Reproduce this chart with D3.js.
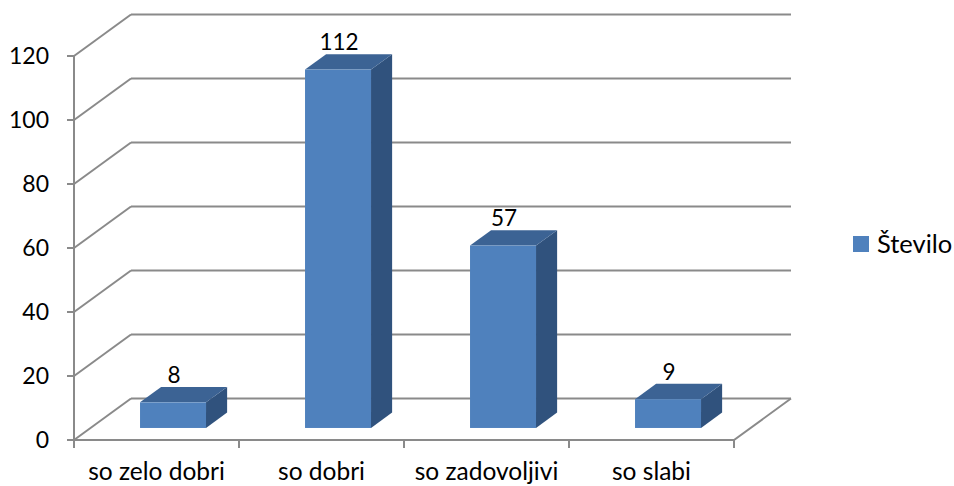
<!DOCTYPE html>
<html>
<head>
<meta charset="utf-8">
<script src="https://cdn.jsdelivr.net/npm/d3@7"></script>
<style>
  body { margin: 0; background: #fff; }
  text { font-family: Lato, "Open Sans", sans-serif; fill: #000; }
</style>
</head>
<body>
<div id="chart"></div>
<script>
// chart data
const categories = ["so zelo dobri", "so dobri", "so zadovoljivi", "so slabi"];
const values = [8, 112, 57, 9];
const seriesName = "Število";
const yTicks = [0, 20, 40, 60, 80, 100, 120];

const W = 954, H = 486;
// 3d depth of the whole plot (back wall offset)
const depthX = 57, depthY = -41.5;
// bar sits between these fractions of the depth
const barFront = 0.29, barBack = 0.66;

const svg = d3.select("#chart").append("svg")
  .attr("width", W).attr("height", H);

const x = d3.scaleBand().domain(categories).range([74, 734]);
const y = d3.scaleLinear().domain([0, 120]).range([440, 56]);

const gridColor = "#8a8a8a";
const grid = svg.append("g")
  .attr("stroke", gridColor).attr("stroke-width", 2).attr("fill", "none");

// back wall gridlines
grid.selectAll("line.back").data(yTicks).enter().append("line")
  .attr("x1", x.range()[0] + depthX).attr("x2", x.range()[1] + depthX)
  .attr("y1", d => y(d) + depthY).attr("y2", d => y(d) + depthY);

// side wall diagonals
grid.selectAll("line.side").data(yTicks).enter().append("line")
  .attr("x1", x.range()[0]).attr("x2", x.range()[0] + depthX)
  .attr("y1", d => y(d)).attr("y2", d => y(d) + depthY);

// floor front and right edges
grid.append("path")
  .attr("d", `M${x.range()[0]},${y(0)}L${x.range()[1]},${y(0)}L${x.range()[1] + depthX},${y(0) + depthY}`);

// vertical axis
grid.append("line")
  .attr("x1", x.range()[0]).attr("x2", x.range()[0])
  .attr("y1", y(0)).attr("y2", y(120));

// y ticks
grid.selectAll("line.ytick").data(yTicks).enter().append("line")
  .attr("x1", x.range()[0] - 7).attr("x2", x.range()[0])
  .attr("y1", d => y(d)).attr("y2", d => y(d));

// x ticks at category boundaries
const bounds = categories.map(c => x(c)).concat([x.range()[1]]);
grid.selectAll("line.xtick").data(bounds).enter().append("line")
  .attr("x1", d => d).attr("x2", d => d)
  .attr("y1", y(0)).attr("y2", y(0) + 8);

// y tick labels
svg.append("g").selectAll("text").data(yTicks).enter().append("text")
  .attr("x", 49).attr("y", d => y(d))
  .attr("dy", "0.35em")
  .attr("text-anchor", "end")
  .style("font-size", "23px")
  .text(d => d);

// category labels
svg.append("g").selectAll("text").data(categories).enter().append("text")
  .attr("x", d => x(d) + x.bandwidth() / 2)
  .attr("y", 480)
  .attr("text-anchor", "middle")
  .style("font-size", "24.5px")
  .text(d => d);

// bars
const faceW = 66;
const sdx = (barBack - barFront) * depthX, sdy = (barBack - barFront) * depthY;
const bars = svg.append("g").selectAll("g").data(values).enter().append("g");

function faceX(i) {
  return x(categories[i]) + (x.bandwidth() - faceW) / 2 + barFront * depthX;
}
function baseY() { return y(0) + barFront * depthY; }
function topY(v) { return y(v) + barFront * depthY; }

// right side
bars.append("path")
  .attr("fill", "#30527d")
  .attr("d", (d, i) => {
    const x1 = faceX(i) + faceW, t = topY(d), b = baseY();
    return `M${x1},${b}L${x1},${t}L${x1 + sdx},${t + sdy}L${x1 + sdx},${b + sdy}Z`;
  });
// top
bars.append("path")
  .attr("fill", "#3c6394")
  .attr("d", (d, i) => {
    const x0 = faceX(i), t = topY(d);
    return `M${x0},${t}L${x0 + sdx},${t + sdy}L${x0 + faceW + sdx},${t + sdy}L${x0 + faceW},${t}Z`;
  });
// front
bars.append("rect")
  .attr("fill", "#4f81bd")
  .attr("x", (d, i) => faceX(i))
  .attr("y", d => topY(d))
  .attr("width", faceW)
  .attr("height", d => baseY() - topY(d));

// value labels
bars.append("text")
  .attr("x", (d, i) => faceX(i) + faceW / 2 + 1)
  .attr("y", d => topY(d) + sdy - 4)
  .attr("text-anchor", "middle")
  .style("font-size", "22.5px")
  .text(d => d);

// legend
const legend = svg.append("g");
legend.append("rect")
  .attr("x", 853).attr("y", 236).attr("width", 16).attr("height", 16)
  .attr("fill", "#4f81bd");
legend.append("text")
  .attr("x", 877).attr("y", 244).attr("dy", "0.35em")
  .style("font-size", "25.5px")
  .text(seriesName);
</script>
</body>
</html>
